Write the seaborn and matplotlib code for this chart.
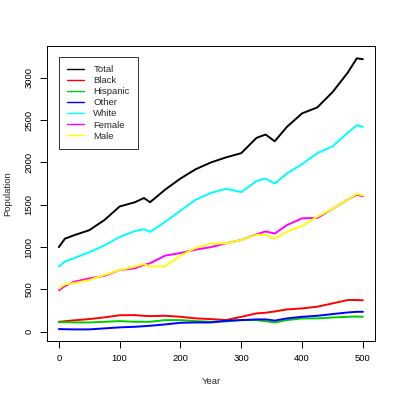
import pandas as pd
import numpy as np
from matplotlib import pyplot as plt
import seaborn as sns

years = [0, 10, 25, 50, 75, 100, 125, 140, 150, 175, 200, 225, 250, 275, 300,
         325, 340, 355, 375, 400, 425, 450, 475, 490, 500]
total = [1000, 1100, 1140, 1200, 1320, 1480, 1530, 1580, 1530, 1680, 1810, 1920, 2000,
         2060, 2110, 2290, 2330, 2250, 2420, 2580, 2650, 2830, 3060, 3230, 3220]
black = [118, 125, 135, 150, 170, 195, 197, 188, 185, 189, 177, 158, 150, 138, 177,
         217, 225, 240, 264, 276, 296, 335, 375, 375, 372]
hispanic = [112, 115, 110, 110, 118, 126, 118, 118, 118, 138, 138, 126, 118, 122, 138,
            138, 125, 110, 138, 158, 158, 169, 177, 180, 177]
other = [32, 30, 28, 28, 40, 52, 59, 66, 71, 87, 106, 110, 110, 130, 138,
         146, 146, 132, 158, 177, 189, 209, 228, 236, 236]
white = [770, 830, 870, 940, 1020, 1120, 1190, 1210, 1180, 1300, 1430, 1560, 1640,
         1690, 1650, 1780, 1810, 1750, 1870, 1980, 2110, 2190, 2350, 2440, 2420]
female = [490, 540, 590, 630, 660, 730, 750, 790, 810, 900, 930, 970, 1000,
          1045, 1085, 1150, 1185, 1160, 1260, 1340, 1345, 1450, 1560, 1620, 1600]
male = [510, 560, 575, 610, 670, 730, 770, 800, 770, 775, 900, 990, 1040,
        1045, 1085, 1145, 1145, 1100, 1180, 1250, 1360, 1450, 1560, 1630, 1610]

groups = ['Total', 'Black', 'Hispanic', 'Other', 'White', 'Female', 'Male']
colors = ['black', 'red', '#00cd00', 'blue', 'cyan', 'magenta', 'yellow']
series = [total, black, hispanic, other, white, female, male]

df = pd.concat([pd.DataFrame({'Year': years, 'Population': s, 'Group': g})
                for g, s in zip(groups, series)], ignore_index=True)

sns.set_style("white")
plt.rcParams['font.family'] = ['Liberation Sans', 'DejaVu Sans']
fs = 6.8

fig = plt.figure(figsize=(3.99, 3.99), dpi=100)
ax = fig.add_axes([0.117, 0.146, 0.823, 0.739])

sns.lineplot(data=df, x='Year', y='Population', hue='Group', hue_order=groups,
             palette=dict(zip(groups, colors)), linewidth=1.4, ax=ax)

ax.set_xlim(-20, 520)
ax.set_ylim(-106, 3377)
ax.set_xticks([0, 100, 200, 300, 400, 500])
ax.set_yticks([0, 500, 1000, 1500, 2000, 2500, 3000])
ax.tick_params(axis='both', direction='out', length=4.8, width=0.7, colors='black',
               labelsize=fs, pad=4.8, bottom=True, left=True)
for lab in ax.get_yticklabels():
    lab.set_rotation(90)
    lab.set_va('center')
for sp in ax.spines.values():
    sp.set_color('black')
    sp.set_linewidth(0.7)
ax.set_xlabel('Year', fontsize=fs, labelpad=10)
ax.set_ylabel('Population', fontsize=fs, labelpad=9)

leg = ax.legend(loc='upper left', bbox_to_anchor=(0.0365, 0.962), fontsize=fs,
                frameon=True, fancybox=False, handlelength=1.87, handletextpad=0.96,
                labelspacing=0.22, borderpad=0.85, borderaxespad=0)
leg.get_frame().set_edgecolor('black')
leg.get_frame().set_linewidth(0.7)
for line in leg.get_lines():
    line.set_linewidth(1.0)

fig.savefig('out.png', dpi=100)
